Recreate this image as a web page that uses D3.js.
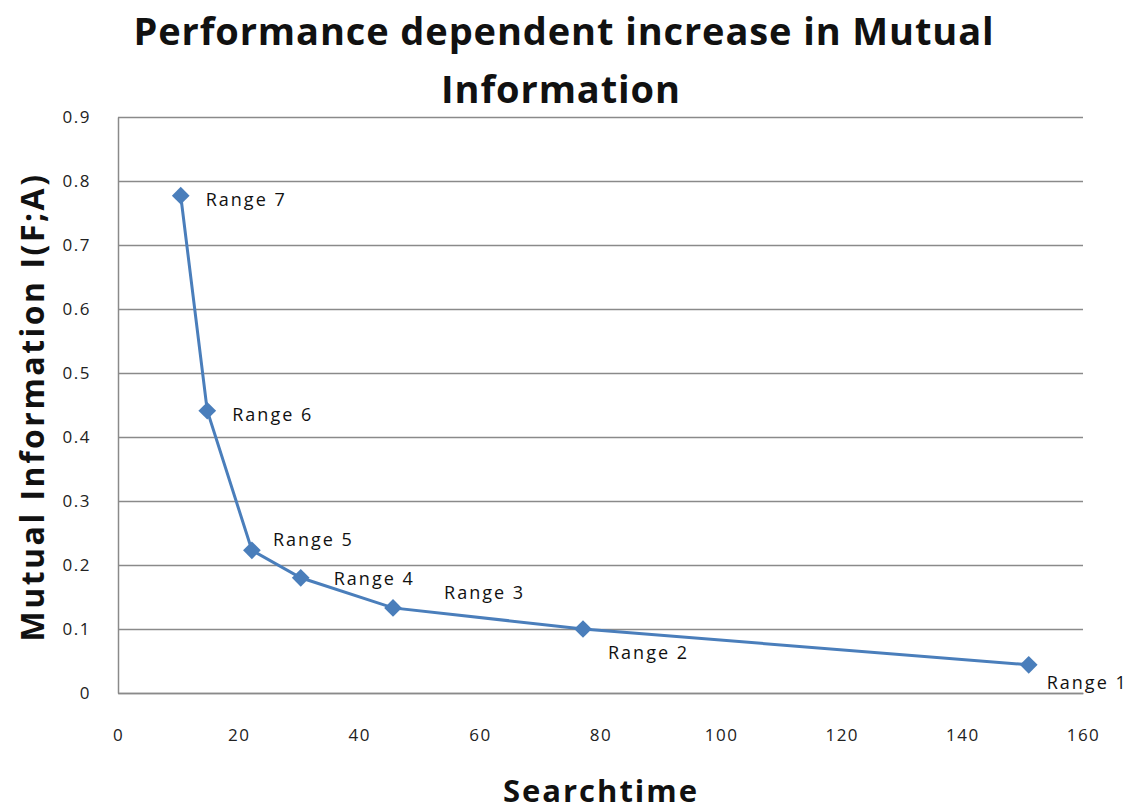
<!DOCTYPE html>
<html>
<head>
<meta charset="utf-8">
<script src="https://cdn.jsdelivr.net/npm/d3@7"></script>
<style>
  body { margin: 0; background: #fff; }
  .tick text { font-family: "Open Sans", "DejaVu Sans", sans-serif; font-size: 17px; letter-spacing: 1.5px; fill: #222; }
  .title, .axis-title { font-family: "Open Sans", sans-serif; font-weight: bold; fill: #111; }
  .pt-label { font-family: "Open Sans", sans-serif; font-size: 18px; letter-spacing: 2px; fill: #111; }
</style>
</head>
<body>
<div id="chart"></div>
<script>
// Searchtime vs mutual information, one point per range
const labels = ["Range 1", "Range 2", "Range 3", "Range 4", "Range 5", "Range 6", "Range 7"];
const searchtime = [151, 77.1, 45.6, 30.3, 22.2, 14.8, 10.4];
const mutualInfo = [0.044, 0.100, 0.133, 0.180, 0.223, 0.441, 0.777];
const xTicks = [0, 20, 40, 60, 80, 100, 120, 140, 160];
const yTicks = [0, 0.1, 0.2, 0.3, 0.4, 0.5, 0.6, 0.7, 0.8, 0.9];

// where each label sits relative to its marker (layout, not data)
const labelOffsets = [[18, 24], [25, 30], [51, -9], [33, 7], [21, -4], [25, 10], [25, 10]];

const data = labels.map((l, i) => ({label: l, x: searchtime[i], y: mutualInfo[i], off: labelOffsets[i]}));

const W = 1139, H = 812;
const margin = {top: 117, right: 56, bottom: 119, left: 118};
const width = W - margin.left - margin.right;
const height = H - margin.top - margin.bottom;

const root = d3.select("#chart").append("svg")
    .attr("width", W)
    .attr("height", H);

const svg = root.append("g")
    .attr("transform", `translate(${margin.left},${margin.top})`);

const x = d3.scaleLinear().domain([0, 160]).range([0, width]);
const y = d3.scaleLinear().domain([0, 0.9]).range([height, 0]);

// gridlines
svg.append("g")
    .call(d3.axisLeft(y).tickValues(yTicks).tickSize(-width).tickFormat(""))
    .call(g => g.select(".domain").remove())
    .call(g => g.selectAll("line").attr("stroke", "#8a8a8a").attr("stroke-width", 1.5));

// Y axis
svg.append("g")
    .call(d3.axisLeft(y).tickValues(yTicks).tickSize(0).tickPadding(27).tickFormat(d => d === 0 ? "0" : d3.format(".1f")(d)))
    .call(g => g.select(".domain").attr("stroke", "#8a8a8a").attr("stroke-width", 1.5));

// X axis
svg.append("g")
    .attr("transform", `translate(0,${height})`)
    .call(d3.axisBottom(x).tickValues(xTicks).tickSize(0).tickPadding(36))
    .call(g => g.select(".domain").attr("stroke", "#8a8a8a").attr("stroke-width", 1.5));

// line
const line = d3.line().x(d => x(d.x)).y(d => y(d.y));
svg.append("path")
    .datum(data)
    .attr("fill", "none")
    .attr("stroke", "#4a7ebb")
    .attr("stroke-width", 3)
    .attr("d", line);

// markers
svg.selectAll(".dot")
    .data(data)
    .enter().append("path")
    .attr("class", "dot")
    .attr("d", d3.symbol().type(d3.symbolDiamond2).size(200))
    .attr("transform", d => `translate(${x(d.x)},${y(d.y)})`)
    .attr("fill", "#4a7ebb");

// point labels
svg.selectAll(".pt-label")
    .data(data)
    .enter().append("text")
    .attr("class", "pt-label")
    .attr("x", d => x(d.x) + d.off[0])
    .attr("y", d => y(d.y) + d.off[1])
    .text(d => d.label);

// titles
root.append("text")
    .attr("class", "title")
    .attr("x", 564).attr("y", 45)
    .attr("text-anchor", "middle")
    .style("font-size", "38px")
    .style("letter-spacing", "0.9px")
    .text("Performance dependent increase in Mutual");
root.append("text")
    .attr("class", "title")
    .attr("x", 561).attr("y", 103)
    .attr("text-anchor", "middle")
    .style("font-size", "38px")
    .style("letter-spacing", "0.9px")
    .text("Information");

root.append("text")
    .attr("class", "axis-title")
    .attr("x", 601).attr("y", 802)
    .attr("text-anchor", "middle")
    .style("font-size", "31px")
    .style("letter-spacing", "2px")
    .text("Searchtime");

root.append("text")
    .attr("class", "axis-title")
    .attr("transform", "translate(44,407) rotate(-90)")
    .attr("text-anchor", "middle")
    .style("font-size", "32px")
    .style("letter-spacing", "2.5px")
    .text("Mutual Information I(F;A)");
</script>
</body>
</html>
